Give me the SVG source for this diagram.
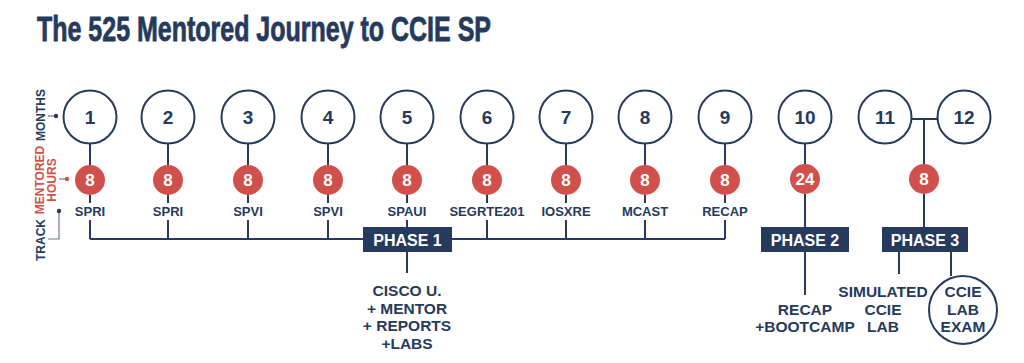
<svg xmlns="http://www.w3.org/2000/svg" width="1024" height="363" viewBox="0 0 1024 363">
<style>
.ln{stroke:#253a5c;stroke-width:2;fill:none}
.gl{stroke:#6b7a90;stroke-width:1.2;fill:none}
.mc{fill:#fff;stroke:#253a5c;stroke-width:2}
.rc{fill:#d2504b}
.mt{font-family:"Liberation Sans",Arial,sans-serif;font-weight:bold;font-size:19px;fill:#253a5c;text-anchor:middle}
.ht{font-family:"Liberation Sans",Arial,sans-serif;font-weight:bold;font-size:17px;fill:#fff;text-anchor:middle}
.tt{font-family:"Liberation Sans",Arial,sans-serif;font-weight:bold;font-size:13px;fill:#253a5c;text-anchor:middle}
.pb{fill:#253a5c}
.pt{font-family:"Liberation Sans",Arial,sans-serif;font-weight:bold;font-size:16px;fill:#fff;text-anchor:middle}
.bt{font-family:"Liberation Sans",Arial,sans-serif;font-weight:bold;font-size:15.5px;fill:#253a5c;text-anchor:middle}
.lt{font-family:"Liberation Sans",Arial,sans-serif;font-weight:bold;font-size:12px;text-anchor:middle}
</style>
<rect width="1024" height="363" fill="#fff"/>
<text x="37" y="41" font-family="'Liberation Sans',Arial,sans-serif" font-weight="bold" font-size="35" fill="#253a5c" stroke="#253a5c" stroke-width="0.8" textLength="454" lengthAdjust="spacingAndGlyphs">The 525 Mentored Journey to CCIE SP</text>

<g id="legend">
<text class="lt" fill="#253a5c" transform="translate(45,115) rotate(-90)">MONTHS</text>
<line class="gl" x1="48" y1="116" x2="56" y2="116"/><circle cx="56" cy="116" r="2.2" fill="#253a5c"/>
<text class="lt" fill="#d2504b" transform="translate(44,180) rotate(-90)">MENTORED</text>
<text class="lt" fill="#d2504b" transform="translate(56,180) rotate(-90)">HOURS</text>
<line class="gl" x1="59" y1="179" x2="67" y2="179" stroke="#d2504b"/><circle cx="67" cy="179" r="2.2" fill="#d2504b"/>
<text class="lt" fill="#253a5c" transform="translate(45,240) rotate(-90)">TRACK</text>
<polyline class="gl" points="59,211 59,239 48,239"/><circle cx="59" cy="211" r="2.2" fill="#253a5c"/>
</g>

<g id="connectors">
<line class="ln" x1="90" y1="239" x2="725" y2="239"/>
<path class="ln" d="M90 143V165M90 195V203M90 220V239"/>
<path class="ln" d="M168 143V165M168 195V203M168 220V239"/>
<path class="ln" d="M248 143V165M248 195V203M248 220V239"/>
<path class="ln" d="M328 143V165M328 195V203M328 220V239"/>
<path class="ln" d="M407 143V165M407 195V203M407 220V227M407 252V273"/>
<path class="ln" d="M487 143V165M487 195V203M487 220V239"/>
<path class="ln" d="M566 143V165M566 195V203M566 220V239"/>
<path class="ln" d="M645 143V165M645 195V203M645 220V239"/>
<path class="ln" d="M725 143V165M725 195V203M725 220V239"/>
<path class="ln" d="M805 144V164M805 194V227M805 252V295"/>
<path class="ln" d="M911 119H937M924 119V164M924 194V227M899 252V274M951 252V276"/>
</g>

<g id="m1"><circle class="mc" cx="90" cy="117" r="26.5"/><text class="mt" x="90" y="124">1</text><circle class="rc" cx="90" cy="180" r="15"/><text class="ht" x="90" y="186">8</text><text class="tt" x="90" y="216">SPRI</text></g>
<g id="m2"><circle class="mc" cx="168" cy="117" r="26.5"/><text class="mt" x="168" y="124">2</text><circle class="rc" cx="168" cy="180" r="15"/><text class="ht" x="168" y="186">8</text><text class="tt" x="168" y="216">SPRI</text></g>
<g id="m3"><circle class="mc" cx="248" cy="117" r="26.5"/><text class="mt" x="248" y="124">3</text><circle class="rc" cx="248" cy="180" r="15"/><text class="ht" x="248" y="186">8</text><text class="tt" x="248" y="216">SPVI</text></g>
<g id="m4"><circle class="mc" cx="328" cy="117" r="26.5"/><text class="mt" x="328" y="124">4</text><circle class="rc" cx="328" cy="180" r="15"/><text class="ht" x="328" y="186">8</text><text class="tt" x="328" y="216">SPVI</text></g>
<g id="m5"><circle class="mc" cx="407" cy="117" r="26.5"/><text class="mt" x="407" y="124">5</text><circle class="rc" cx="407" cy="180" r="15"/><text class="ht" x="407" y="186">8</text><text class="tt" x="407" y="216">SPAUI</text></g>
<g id="m6"><circle class="mc" cx="487" cy="117" r="26.5"/><text class="mt" x="487" y="124">6</text><circle class="rc" cx="487" cy="180" r="15"/><text class="ht" x="487" y="186">8</text><text class="tt" x="487" y="216">SEGRTE201</text></g>
<g id="m7"><circle class="mc" cx="566" cy="117" r="26.5"/><text class="mt" x="566" y="124">7</text><circle class="rc" cx="566" cy="180" r="15"/><text class="ht" x="566" y="186">8</text><text class="tt" x="566" y="216">IOSXRE</text></g>
<g id="m8"><circle class="mc" cx="645" cy="117" r="26.5"/><text class="mt" x="645" y="124">8</text><circle class="rc" cx="645" cy="180" r="15"/><text class="ht" x="645" y="186">8</text><text class="tt" x="645" y="216">MCAST</text></g>
<g id="m9"><circle class="mc" cx="725" cy="117" r="26.5"/><text class="mt" x="725" y="124">9</text><circle class="rc" cx="725" cy="180" r="15"/><text class="ht" x="725" y="186">8</text><text class="tt" x="725" y="216">RECAP</text></g>
<g id="m10"><circle class="mc" cx="805" cy="117" r="26.5"/><text class="mt" x="805" y="124">10</text><circle class="rc" cx="805" cy="179" r="15"/><text class="ht" x="805" y="185">24</text></g>
<g id="m11"><circle class="mc" cx="885" cy="117" r="26.5"/><text class="mt" x="885" y="124">11</text></g>
<g id="m12"><circle class="mc" cx="964" cy="117" r="26.5"/><text class="mt" x="964" y="124">12</text></g>
<g id="h3"><circle class="rc" cx="924" cy="179" r="15"/><text class="ht" x="924" y="185">8</text></g>

<g id="phase1"><rect class="pb" x="363" y="227" width="89" height="25"/><text class="pt" x="407.5" y="245.5">PHASE 1</text></g>
<g id="phase2"><rect class="pb" x="761" y="227" width="88" height="25"/><text class="pt" x="805" y="245.5">PHASE 2</text></g>
<g id="phase3"><rect class="pb" x="882" y="227" width="86" height="25"/><text class="pt" x="925" y="245.5">PHASE 3</text></g>

<g id="p1text"><text class="bt" x="407" y="296">CISCO U.</text><text class="bt" x="407" y="313.5">+ MENTOR</text><text class="bt" x="407" y="331">+ REPORTS</text><text class="bt" x="407" y="348.5">+LABS</text></g>
<g id="p2text"><text class="bt" x="805" y="315">RECAP</text><text class="bt" x="805" y="332">+BOOTCAMP</text></g>
<g id="sim"><text class="bt" x="883" y="297">SIMULATED</text><text class="bt" x="883" y="314.5">CCIE</text><text class="bt" x="883" y="332">LAB</text></g>
<g id="exam"><circle class="mc" cx="963" cy="310" r="34"/><text class="bt" x="963" y="297">CCIE</text><text class="bt" x="963" y="314.5">LAB</text><text class="bt" x="963" y="332">EXAM</text></g>
</svg>
